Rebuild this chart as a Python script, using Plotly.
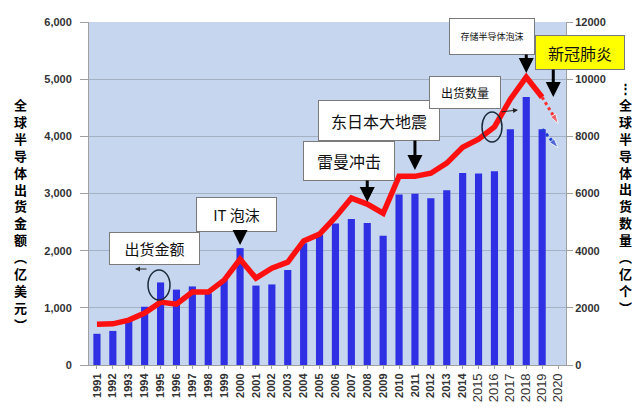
import plotly.graph_objects as go

years = ['1991', '1992', '1993', '1994', '1995', '1996', '1997', '1998', '1999', '2000',
         '2001', '2002', '2003', '2004', '2005', '2006', '2007', '2008', '2009', '2010',
         '2011', '2012', '2013', '2014', '2015', '2016', '2017', '2018', '2019', '2020']

# shipment amount (100 million USD), left axis
amount = [546, 596, 773, 1019, 1444, 1319, 1374, 1256, 1494, 2044,
          1389, 1409, 1662, 2130, 2275, 2477, 2556, 2486, 2263, 2983,
          2995, 2916, 3056, 3358, 3352, 3389, 4122, 4688, 4123]

# shipment quantity (100 million units), right axis
units = [1430, 1440, 1570, 1820, 2200, 2130, 2550, 2550, 2970, 3700,
         3040, 3390, 3600, 4340, 4580, 5170, 5840, 5630, 5310, 6600,
         6600, 6710, 7060, 7620, 7900, 8330, 9300, 10070, 9370]

# projected drop 2019 -> 2020
proj_years = ['2019', '2020']
proj_amount = [4123, 3800]
proj_units = [9370, 8450]

left_ticks = [0, 1000, 2000, 3000, 4000, 5000, 6000]
right_ticks = [0, 2000, 4000, 6000, 8000, 10000, 12000]

tick_text = [y if int(y) < 2015 else '<span style="font-size:13px;font-weight:normal">%s</span>' % y
             for y in years]

BAR = '#2f2fe3'
RED = '#ff1010'

fig = go.Figure()

fig.add_trace(go.Bar(x=years[:len(amount)], y=amount, marker_color=BAR,
                     marker_line_width=0, yaxis='y', showlegend=False))

fig.add_trace(go.Scatter(x=years[:len(units)], y=units, mode='lines', yaxis='y2',
                         line=dict(color=RED, width=5.5), showlegend=False))

fig.add_trace(go.Scatter(x=proj_years, y=proj_units, mode='lines+markers', yaxis='y2',
                         line=dict(color='#ff3030', width=3, dash='dot'),
                         marker=dict(symbol='arrow', size=[0, 10], angleref='previous',
                                     color='#ff3030'),
                         showlegend=False))

fig.add_trace(go.Scatter(x=proj_years, y=proj_amount, mode='lines+markers', yaxis='y',
                         line=dict(color='#1f3fd0', width=3, dash='dot'),
                         marker=dict(symbol='arrow', size=[0, 10], angleref='previous',
                                     color='#1f3fd0'),
                         showlegend=False))

# page body has an 8px margin, so the figure is drawn 8px smaller and offset
OFF = 8
# plot area in window px: x 89..566, y 22..365
L, R, T, B = 89, 566, 22, 365


def px(x):
    return (x - L) / (R - L)


def py(y):
    return (B - y) / (B - T)


annotations = []

# text boxes
boxes = [
    ('出货金额', 109, 232, 89, 31, 15, 'white'),
    ('IT 泡沫', 196, 197, 79, 33, 15, 'white'),
    ('雷曼冲击', 303, 141, 90, 38, 16, 'white'),
    ('东日本大地震', 318, 100, 120, 39, 16, 'white'),
    ('出货数量', 429, 76, 70, 31, 12, 'white'),
    ('存储半导体泡沫', 449, 18, 84, 35, 9, 'white'),
    ('新冠肺炎', 535, 35, 88, 33, 16, '#ffff00'),
]
for text, bx, by, bw, bh, fs, bg in boxes:
    annotations.append(dict(
        text=text, xref='paper', yref='paper', x=px(bx), y=py(by),
        xanchor='left', yanchor='top', width=bw, height=bh, showarrow=False,
        bgcolor=bg, bordercolor='#7a7a7a', borderwidth=1, borderpad=0,
        font=dict(family='Noto Sans CJK SC', size=fs, color='#111111')))

# black event arrows (head at year position, tail at box)
events = [(9, 4200, -13), (17, 5700, -23), (20, 6820, -31), (27, 10216, -20), (28.7, 9376, -29)]
for xi, yv, ay in events:
    annotations.append(dict(
        x=xi, y=yv, xref='x', yref='y2', ax=0, ay=ay, text='', showarrow=True,
        arrowhead=2, arrowsize=1, arrowwidth=3, arrowcolor='black'))

# thin pointer arrows from ellipses
for x0, y0, x1, y1 in [(148, 269, 135, 269), (500, 112, 518, 110)]:
    annotations.append(dict(
        x=px(x1), y=py(y1), xref='paper', yref='paper', ax=x0 - x1, ay=y0 - y1,
        text='', showarrow=True, arrowhead=2, arrowsize=1, arrowwidth=1,
        arrowcolor='#222222'))

# axis titles, vertical stacked characters
left_title = '全球半导体出货金额︵亿美元︶'
right_title = '⋮全球半导体出货数量︵亿个︶'
annotations.append(dict(
    text='<br>'.join(left_title), xref='paper', yref='paper', x=px(20), y=py(214),
    xanchor='center', yanchor='middle', showarrow=False,
    font=dict(family='Noto Sans CJK SC', size=13, color='black', weight='bold')))
annotations.append(dict(
    text='<br>'.join(right_title), xref='paper', yref='paper', x=px(625), y=py(197),
    xanchor='center', yanchor='middle', showarrow=False,
    font=dict(family='Noto Sans CJK SC', size=13, color='black', weight='bold')))

shapes = [
    dict(type='circle', xref='paper', yref='paper', x0=px(148), x1=px(170),
         y0=py(300), y1=py(270), line=dict(color='#1a2a3a', width=1.5)),
    dict(type='circle', xref='paper', yref='paper', x0=px(482), x1=px(502),
         y0=py(142), y1=py(112), line=dict(color='#1a2a3a', width=1.5)),
]

tick_font = dict(family='Liberation Sans', size=11, color='#333333', weight='bold')

fig.update_layout(
    width=640 - OFF, height=410 - OFF,
    margin=dict(l=L - OFF, r=640 - R, t=T - OFF, b=410 - B, autoexpand=False),
    paper_bgcolor='white', plot_bgcolor='#c6d6ee',
    bargap=0.55,
    xaxis=dict(type='category', categoryorder='array', categoryarray=years,
               tickvals=years, ticktext=tick_text, tickangle=-90,
               range=[-0.5, len(years) - 0.5], showgrid=False,
               tickfont=tick_font, ticks='outside', ticklen=3, tickcolor='#a0a0a0',
               showline=True, linecolor='#a0a0a0', automargin=False),
    yaxis=dict(range=[0, 6000], tickvals=left_ticks, tickformat=',d',
               showgrid=True, gridcolor='#a4b0c4', gridwidth=1, zeroline=False,
               tickfont=tick_font, ticks='outside', ticklen=8, tickcolor='#a0a0a0',
               showline=True, linecolor='#a0a0a0', ticklabelstandoff=6,
               automargin=False),
    yaxis2=dict(range=[0, 12000], tickvals=right_ticks, tickformat='d',
                overlaying='y', side='right', showgrid=False, zeroline=False,
                tickfont=tick_font, ticks='outside', ticklen=6, tickcolor='#a0a0a0',
                showline=True, linecolor='#a0a0a0', automargin=False),
    annotations=annotations,
    shapes=shapes,
)

fig.write_html("out.html")
